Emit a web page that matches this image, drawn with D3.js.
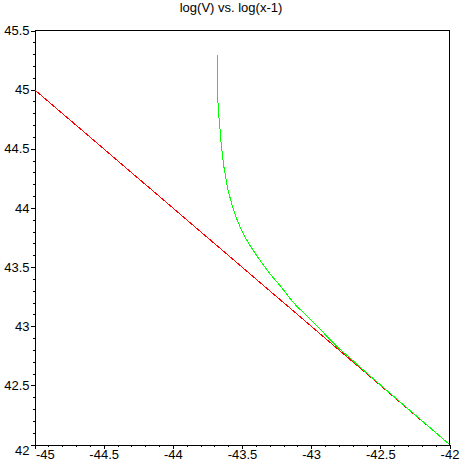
<!DOCTYPE html>
<html>
<head>
<meta charset="utf-8">
<script src="https://cdn.jsdelivr.net/npm/d3@7"></script>
<style>
  body { margin: 0; background: #fff; overflow: hidden; }
  svg { display: block; }
</style>
</head>
<body>
<div id="chart"></div>
<script>
const title = "log(V) vs. log(x-1)";

const xDomain = [-45, -42];
const yDomain = [42, 45.5];
const xTickValues = [-45, -44.5, -44, -43.5, -43, -42.5, -42];
const yTickValues = [42, 42.5, 43, 43.5, 44, 44.5, 45, 45.5];

// straight reference line
const redX = [-45, -42];
const redY = [45, 42];

// curve
const greenX = [-43.679, -43.677, -43.670, -43.660, -43.653, -43.646, -43.639, -43.632, -43.621,
    -43.612, -43.600, -43.581, -43.559, -43.511, -43.462, -43.415, -43.366, -43.294, -43.222,
    -43.126, -43.029, -42.933, -42.812, -42.716, -42.600, -42.477, -42.300, -42.101, -42.0];
const greenY = [45.29, 45.02, 44.814, 44.681, 44.576, 44.497, 44.426, 44.356, 44.286,
    44.215, 44.144, 44.065, 43.975, 43.833, 43.720, 43.636, 43.551, 43.438, 43.339,
    43.197, 43.085, 42.972, 42.826, 42.728, 42.606, 42.481, 42.302, 42.102, 42.0];

const width = 463;
const height = 463;
const margin = { top: 30, right: 14, bottom: 19, left: 34 };
const innerWidth = width - margin.left - margin.right;
const innerHeight = height - margin.top - margin.bottom;

const x = d3.scaleLinear().domain(xDomain).range([0, innerWidth]);
const y = d3.scaleLinear().domain(yDomain).range([innerHeight, 0]);

const svg = d3.select("#chart").append("svg")
    .attr("width", width)
    .attr("height", height)
    .style("font-family", "Arial, 'Liberation Sans', sans-serif");

svg.append("text")
    .attr("x", 231)
    .attr("y", 12)
    .attr("text-anchor", "middle")
    .style("font-size", "13px")
    .attr("fill", "#000")
    .text(title);

const g = svg.append("g")
    .attr("transform", `translate(${margin.left + 0.5}, ${margin.top + 0.5})`);

// frame: top and right edges
g.append("path")
    .attr("d", `M0,0H${innerWidth}V${innerHeight}`)
    .attr("fill", "none")
    .attr("stroke", "#000")
    .attr("shape-rendering", "crispEdges");

// minor ticks every 0.1
const minorX = d3.range(-45, -41.95, 0.1).map(v => +v.toFixed(1));
const minorY = d3.range(42, 45.55, 0.1).map(v => +v.toFixed(1));

g.append("g")
    .attr("transform", `translate(0, ${innerHeight})`)
    .call(d3.axisBottom(x).tickValues(minorX).tickSize(2).tickSizeOuter(0))
    .call(a => a.selectAll("text").remove())
    .call(a => a.attr("shape-rendering", "crispEdges"));

g.append("g")
    .call(d3.axisLeft(y).tickValues(minorY).tickSize(2).tickSizeOuter(0))
    .call(a => a.selectAll("text").remove())
    .call(a => a.attr("shape-rendering", "crispEdges"));

g.append("g")
    .attr("transform", `translate(0, ${innerHeight})`)
    .call(d3.axisBottom(x).tickValues(xTickValues).tickSize(4).tickSizeOuter(0).tickPadding(1)
        .tickFormat(d => String(d)))
    .call(a => a.attr("shape-rendering", "crispEdges"))
    .call(a => a.selectAll(".tick line").attr("stroke", "#000"))
    .call(a => a.select(".domain").attr("stroke", "#000"))
    .call(a => a.selectAll(".tick text")
        .style("font-size", "13px")
        .attr("fill", "#000")
        .attr("dy", "0.7em")
        .attr("text-anchor", d => d === -45 ? "start" : "middle")
        .attr("x", d => d === -45 ? 1 : 0));

g.append("g")
    .call(d3.axisLeft(y).tickValues(yTickValues).tickSize(4).tickSizeOuter(0).tickPadding(1)
        .tickFormat(d => String(d)))
    .call(a => a.attr("shape-rendering", "crispEdges"))
    .call(a => a.selectAll(".tick line").attr("stroke", "#000"))
    .call(a => a.select(".domain").attr("stroke", "#000"))
    .call(a => a.selectAll(".tick text")
        .style("font-size", "13px")
        .attr("fill", "#000")
        .attr("y", d => d === 42 ? 6 : 0));

const line = d3.line()
    .x(d => x(d[0]))
    .y(d => y(d[1]));

g.append("path")
    .datum(d3.zip(redX, redY))
    .attr("d", line)
    .attr("fill", "none")
    .attr("stroke", "#ff0000")
    .attr("stroke-width", 1)
    .attr("shape-rendering", "crispEdges");

g.append("path")
    .datum(d3.zip(greenX, greenY))
    .attr("d", line.curve(d3.curveCatmullRom.alpha(0.5)))
    .attr("fill", "none")
    .attr("stroke", "#00ff00")
    .attr("stroke-width", 1)
    .attr("shape-rendering", "crispEdges");
</script>
</body>
</html>
